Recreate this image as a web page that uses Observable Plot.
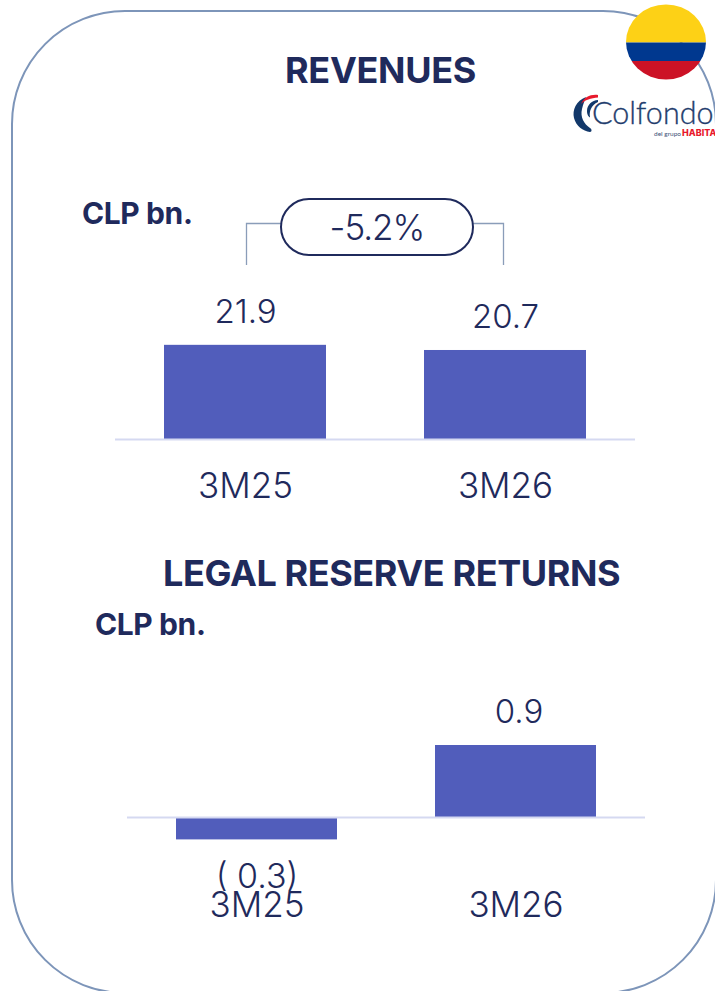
<!DOCTYPE html>
<html>
<head>
<meta charset="utf-8">
<script src="https://cdn.jsdelivr.net/npm/d3@7"></script>
<script src="https://cdn.jsdelivr.net/npm/@observablehq/plot@0.6"></script>
<style>
html,body{margin:0;padding:0;background:#fff;overflow:hidden}
#page{position:relative;width:715px;height:991px;overflow:hidden;font-family:Inter,sans-serif;color:#1f2a5c}
#panel{position:absolute;left:10.500px;top:9.500px;width:706.500px;height:984.500px;border:2.500px solid #7d95b9;border-radius:114px;box-sizing:border-box}
.t{position:absolute;white-space:nowrap;font-weight:700;line-height:1}
.chart{position:absolute;left:0}
#pill{position:absolute;left:280px;top:198px;width:194px;height:58px;box-sizing:border-box;border:2px solid #1f2a5c;border-radius:29px;background:#fff;display:flex;align-items:center;justify-content:center;font-size:35px;font-weight:300;letter-spacing:-1px}
#deco{position:absolute;left:0;top:0}
</style>
</head>
<body>
<div id="page">
  <div id="panel"></div>
  <svg id="deco" width="715" height="991" viewBox="0 0 715 991">
    <path d="M246.500 265V223.500H281M473 223.500H503.500V265" fill="none" stroke="#8a9db9" stroke-width="1.300"/>
    <defs><clipPath id="flagClip"><ellipse cx="666" cy="42" rx="40" ry="37.500"/></clipPath></defs>
    <g clip-path="url(#flagClip)">
      <rect x="620" y="0" width="95" height="42.500" fill="#fdd116"/>
      <rect x="620" y="42.500" width="95" height="18.500" fill="#00388f"/>
      <rect x="620" y="61" width="95" height="24" fill="#cc1226"/>
    </g>
    <path d="M586 97C576 101 572 110 574 118C576 126 583 131 590 132C592 132 592 129 590 128C584 124 580 117 582 109C583 104 585 100 586 97Z" fill="#12386a"/>
    <path d="M598 95C591 94 584 97 581 104C585 100 591 98 598 97.500Z" fill="#e8192c"/>
    <path d="M598 100C592 100 587 105 587 111C587 116 590 118 590 117C589 112 591 105 598 102Z" fill="#12386a"/>
    <text x="592" y="124" font-family="Lato,sans-serif" font-size="30.500" font-weight="300" stroke="#1f3d6d" stroke-width=".35" fill="#1f3d6d">Colfondo</text>
    <text x="654" y="136" font-family="Lato,sans-serif" font-size="6.500" fill="#3a4f78">del grupo</text>
    <text x="682" y="136" font-family="Inter,sans-serif" font-size="9" font-weight="800" fill="#e8192c">HABITAT</text>
  </svg>
  <div class="t" id="title1" style="left:285px;top:52px;font-size:36px;letter-spacing:-.3px">REVENUES</div>
  <div class="t" id="unit1" style="left:82px;top:198px;font-size:30px;letter-spacing:-.4px">CLP bn.</div>
  <div id="pill">-5.2%</div>
  <div class="t" id="title2" style="left:163px;top:555px;font-size:36px;letter-spacing:-.4px">LEGAL RESERVE RETURNS</div>
  <div class="t" id="unit2" style="left:95px;top:609px;font-size:30px;letter-spacing:-.4px">CLP bn.</div>
  <div class="chart" id="c1" style="top:280px"></div>
  <div class="chart" id="c2" style="top:680px"></div>
</div>
<script>
const categories = ["3M25", "3M26"];
const revenues = [21.9, 20.7];
const revenueLabels = ["21.9", "20.7"];
const reserveReturns = [-0.28, 0.9];
const reserveLabels = ["( 0.3)", "0.9"];

const navy = "#1f2a5c", barColor = "#515dbb", baseColor = "#d5d9f1";

function panel(values, labels, o) {
  const rows = categories.map((c, i) => ({c, v: values[i], l: labels[i]}));
  return Plot.plot({
    width: 715, height: o.height,
    marginLeft: o.left, marginRight: o.right, marginTop: o.top, marginBottom: o.bottom,
    style: {fontFamily: "Inter, sans-serif", fontWeight: 300, background: "transparent", overflow: "visible"},
    x: {domain: categories, paddingInner: 0.377, paddingOuter: 0.1885, align: 0.5, label: null},
    y: {domain: o.domain, axis: null},
    marks: [
      Plot.barY(rows, {x: "c", y: "v", fill: barColor}),
      Plot.ruleY([0], {stroke: baseColor, strokeWidth: 2}),
      Plot.text(rows.filter(d => d.v >= 0), {x: "c", y: "v", text: "l", dx: o.labelDx, dy: -33, fontSize: 33, fill: navy, lineAnchor: "middle"}),
      Plot.text(rows.filter(d => d.v < 0), {x: "c", y: "v", text: "l", dy: 37, fontSize: 34, fill: navy, lineAnchor: "middle"}),
      Plot.axisX({tickSize: 0, tickPadding: o.pad, fontSize: 35, fill: navy, label: null, anchor: "bottom"})
    ]
  });
}

document.getElementById("c1").append(panel(revenues, revenueLabels,
  {height: 240, left: 115, right: 80, top: 30, bottom: 81, domain: [0, 30], pad: 34, labelDx: 0}));
document.getElementById("c2").append(panel(reserveReturns, reserveLabels,
  {height: 250, left: 127, right: 70, top: 17, bottom: 65, domain: [-0.6, 1.5], pad: 27, labelDx: 3}));
</script>
</body>
</html>
